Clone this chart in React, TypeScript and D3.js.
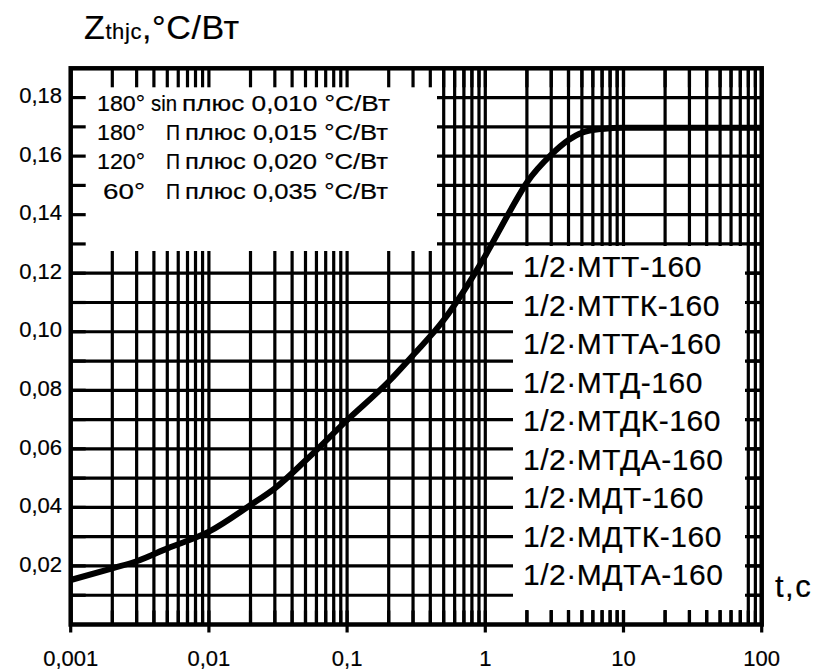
import { useRef, useEffect } from "react";
import * as d3 from "d3";

// time, s
const tValues = [
  0.001, 0.002, 0.003, 0.005, 0.01, 0.02, 0.03, 0.05, 0.1, 0.2, 0.3, 0.5, 0.7,
  1, 1.5, 2, 3, 4, 5, 7, 10, 20, 50, 100,
];
// Zthjc, °C/Вт
const zValues = [
  0.0152, 0.0192, 0.0216, 0.026, 0.0317, 0.0408, 0.0465, 0.056, 0.0698, 0.083,
  0.092, 0.104, 0.114, 0.126, 0.141, 0.151, 0.1605, 0.1655, 0.168, 0.1693,
  0.1697, 0.1697, 0.1697, 0.1697,
];

const xTickValues = [0.001, 0.01, 0.1, 1, 10, 100];
const xTickLabels = ["0,001", "0,01", "0,1", "1", "10", "100"];
const yTickValues = [0.02, 0.04, 0.06, 0.08, 0.1, 0.12, 0.14, 0.16, 0.18];
const yTickLabels = ["0,02", "0,04", "0,06", "0,08", "0,10", "0,12", "0,14", "0,16", "0,18"];
const yGridValues = d3.range(1, 19).map((i) => i / 100);

// строки легенды: угол, форма, добавка
const modeAngles = ["180°", "180°", "120°", "60°"];
const modeShapes = ["sin", "П", "П", "П"];
const modeAdds = ["0,010", "0,015", "0,020", "0,035"];
const deviceNames = [
  "1/2·МТТ-160",
  "1/2·МТТК-160",
  "1/2·МТТА-160",
  "1/2·МТД-160",
  "1/2·МТДК-160",
  "1/2·МТДА-160",
  "1/2·МДТ-160",
  "1/2·МДТК-160",
  "1/2·МДТА-160",
];

const FONT = "'Liberation Sans', Arial, sans-serif";

const App = () => {
  const ref = useRef<SVGSVGElement | null>(null);

  useEffect(() => {
    const svg = d3.select(ref.current);
    svg.selectAll("*").remove();

    const left = 70.7,
      right = 761.7,
      top = 68.3,
      bottom = 624.5;

    const x = d3.scaleLog().domain([0.001, 100]).range([left, right]);
    const y = d3.scaleLinear().domain([0, 0.19]).range([bottom, top]);
    const xGrid = x.ticks();

    /** сетка */
    const grid = svg.append("g").attr("stroke", "#000").attr("stroke-width", 3.2);
    grid
      .selectAll(".vx")
      .data(xGrid)
      .enter()
      .append("line")
      .attr("x1", (d) => x(d))
      .attr("x2", (d) => x(d))
      .attr("y1", top)
      .attr("y2", bottom);
    grid
      .selectAll(".hy")
      .data(yGridValues)
      .enter()
      .append("line")
      .attr("x1", left)
      .attr("x2", right)
      .attr("y1", (d) => y(d))
      .attr("y2", (d) => y(d));

    /** белые поля под легенды */
    svg.append("rect").attr("x", left).attr("y", top).attr("width", 437 - left).attr("height", 251 - top).attr("fill", "#fff");
    svg.append("rect").attr("x", 513).attr("y", 246).attr("width", 745 - 513).attr("height", 610 - 246).attr("fill", "#fff");

    /** штрихи внутрь */
    const ticks = svg.append("g").attr("stroke", "#000").attr("stroke-width", 3.2);
    xGrid.forEach((d) => {
      ticks.append("line").attr("x1", x(d)).attr("x2", x(d)).attr("y1", top).attr("y2", top + 19);
      ticks.append("line").attr("x1", x(d)).attr("x2", x(d)).attr("y1", bottom - 14).attr("y2", bottom);
    });
    xTickValues.forEach((d) => {
      ticks.append("line").attr("x1", x(d)).attr("x2", x(d)).attr("y1", bottom).attr("y2", bottom + 8);
    });
    yGridValues.forEach((d) => {
      ticks.append("line").attr("x1", left).attr("x2", left + 15).attr("y1", y(d)).attr("y2", y(d));
      ticks.append("line").attr("x1", right - 15).attr("x2", right).attr("y1", y(d)).attr("y2", y(d));
    });

    /** кривая */
    const line = d3
      .line<number>()
      .x((d) => x(d))
      .y((_, i) => y(zValues[i]))
      .curve(d3.curveMonotoneX);
    svg
      .append("path")
      .attr("d", line(tValues))
      .attr("fill", "none")
      .attr("stroke", "#000")
      .attr("stroke-width", 6)
      .attr("stroke-linejoin", "round");

    /** рамка */
    svg
      .append("rect")
      .attr("x", left)
      .attr("y", top)
      .attr("width", right - left)
      .attr("height", bottom - top)
      .attr("fill", "none")
      .attr("stroke", "#000")
      .attr("stroke-width", 4.5);

    /** подписи */
    const txt = svg
      .append("g")
      .attr("font-family", FONT)
      .attr("fill", "#000")
      .attr("stroke", "#000")
      .attr("stroke-width", 0.2);
    txt
      .selectAll(".xl")
      .data(xTickValues)
      .enter()
      .append("text")
      .attr("x", (d) => x(d))
      .attr("y", 666)
      .attr("text-anchor", "middle")
      .attr("font-size", 22)
      .text((_, i) => xTickLabels[i]);
    txt
      .selectAll(".yl")
      .data(yTickValues)
      .enter()
      .append("text")
      .attr("x", 62)
      .attr("y", (d) => y(d) - 2)
      .attr("dy", "0.35em")
      .attr("text-anchor", "end")
      .attr("font-size", 22)
      .text((_, i) => yTickLabels[i]);

    const title = txt.append("text").attr("x", 84).attr("y", 39).attr("font-size", 34).attr("letter-spacing", 0.6);
    title.append("tspan").text("Z");
    title.append("tspan").attr("font-size", 22).text("thjc");
    title.append("tspan").text(",°C/Вт");

    txt.append("text").attr("x", 775).attr("y", 597).attr("font-size", 31).attr("letter-spacing", 1.5).text("t,c");

    /** легенда режимов */
    const piece = (s: string, x0: number, x1: number, by: number) =>
      txt
        .append("text")
        .attr("x", x0)
        .attr("y", by)
        .attr("font-size", 22)
        .attr("textLength", x1 - x0)
        .attr("lengthAdjust", "spacingAndGlyphs")
        .text(s);
    modeAngles.forEach((a, i) => {
      const by = 111 + i * 29 + (i === 3 ? 1 : 0);
      piece(a, i === 3 ? 103 : 97, 145, by);
      if (modeShapes[i] === "sin") {
        piece("sin", 151, 177, by);
        piece(`плюс ${modeAdds[i]} °C/Вт`, 182, 390, by);
      } else {
        piece(modeShapes[i], 166, 180, by);
        piece(`плюс ${modeAdds[i]} °C/Вт`, 185, 388, by);
      }
    });

    /** легенда приборов */
    txt
      .selectAll(".dn")
      .data(deviceNames)
      .enter()
      .append("text")
      .attr("x", 523)
      .attr("y", (_, i) => 277 + i * 38.5)
      .attr("font-size", 30)
      .attr("letter-spacing", 0.5)
      .text((d) => d);
  }, []);

  return (
    <svg
      ref={ref}
      width={814}
      height={672}
      style={{ position: "absolute", left: 0, top: 0, background: "#fff" }}
    />
  );
};

export default App;
